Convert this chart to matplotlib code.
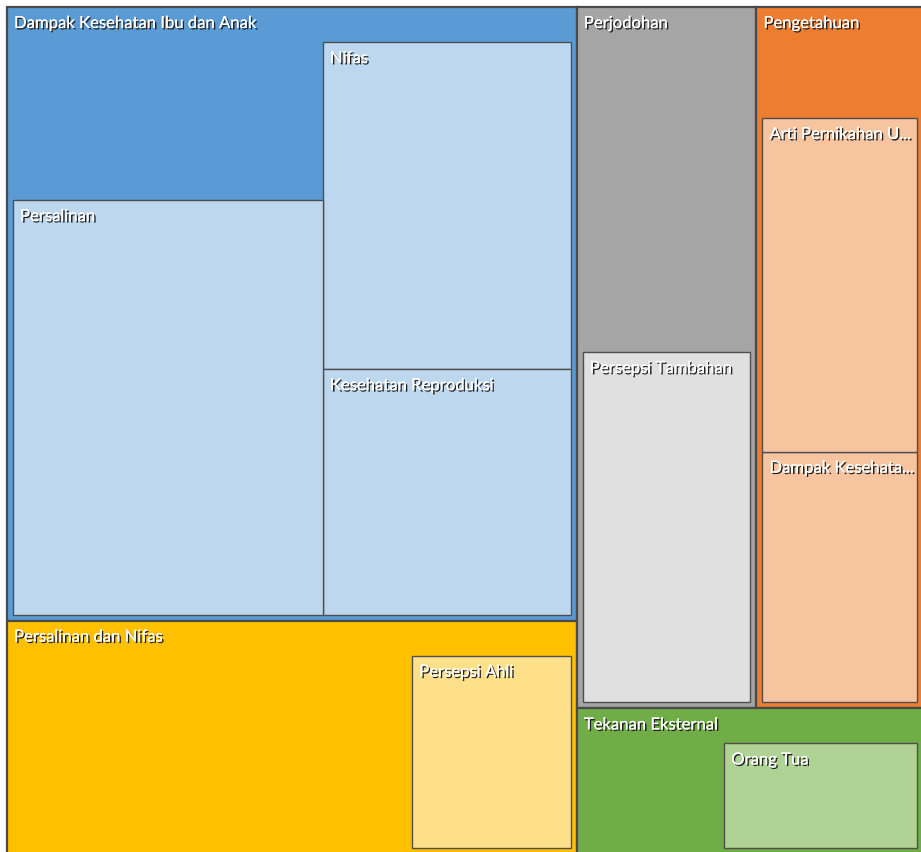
import matplotlib
matplotlib.use("Agg")
import matplotlib.pyplot as plt
from matplotlib.patches import Rectangle
from matplotlib import patheffects, font_manager

# top-level nodes (area units)
groups = ["Dampak Kesehatan Ibu dan Anak", "Persalinan dan Nifas", "Perjodohan",
          "Pengetahuan", "Tekanan Eksternal"]
group_values = [347, 132, 125, 116, 50]

# child nodes per group
child_labels = [
    ["Persalinan", "Nifas", "Kesehatan Reproduksi"],
    ["Persepsi Ahli"],
    ["Persepsi Tambahan"],
    ["Arti Pernikahan U...", "Dampak Kesehata..."],
    ["Orang Tua"],
]
child_values = [
    [127.5, 80.5, 60.4],
    [30.3],
    [58.3],
    [51.2, 38.5],
    [20.0],
]

dark_colors = ["#5B9BD5", "#FFC000", "#A5A5A5", "#ED7D31", "#70AD47"]
light_colors = ["#BDD7EE", "#FFE08A", "#E0E0E0", "#F7C4A0", "#AED394"]

# how the top level is sliced: 'h' = side by side, 'v' = stacked
top_spec = ("h", [("v", [0, 1]), ("v", [("h", [2, 3]), 4])])
# how children sit inside each group: strips taken from the right / bottom
child_strips = [
    [("right", [1, 2]), ("bottom", [0])],
    [("right", [0])],
    [("bottom", [0])],
    [("bottom", [1]), ("bottom", [0])],
    [("right", [0])],
]

W, H = 921, 852
X0, Y0, X1, Y1 = 7, 7, 923, 854
PAD = 6
HEADER = 29

names = {f.name for f in font_manager.fontManager.ttflist}
FONT = "Liberation Sans Narrow" if "Liberation Sans Narrow" in names else "Lato"
FS = 13 if FONT == "Liberation Sans Narrow" else 12


def spec_sum(node):
    if isinstance(node, int):
        return group_values[node]
    return sum(spec_sum(c) for c in node[1])


def slice_rects(node, x, y, w, h, out):
    if isinstance(node, int):
        out[node] = (x, y, w, h)
        return
    d, kids = node
    tot = sum(spec_sum(k) for k in kids)
    pos = 0.0
    for k in kids:
        f = spec_sum(k) / tot
        if d == "h":
            slice_rects(k, x + pos * w, y, f * w, h, out)
        else:
            slice_rects(k, x, y + pos * h, w, f * h, out)
        pos += f


rects = {}
slice_rects(top_spec, X0, Y0, X1 - X0, Y1 - Y0, rects)
scale = (X1 - X0) * (Y1 - Y0) / sum(group_values)  # px^2 per unit

fig = plt.figure(figsize=(W / 100, H / 100), dpi=100)
ax = fig.add_axes([0, 0, 1, 1])
ax.set_xlim(0, W)
ax.set_ylim(H, 0)
ax.axis("off")

fx = [patheffects.withSimplePatchShadow(offset=(1.1, -1.1), shadow_rgbFace="#222222", alpha=1.0),
      patheffects.Normal()]


def label(x, y, s):
    ax.text(x + 7, y + 8, s, color="white", fontsize=FS, family=FONT,
            va="top", ha="left", path_effects=fx, zorder=5)


for g in range(len(groups)):
    x, y, w, h = rects[g]
    ax.add_patch(Rectangle((x, y), w, h, facecolor=dark_colors[g],
                           edgecolor="#4a4a4a", lw=1.6, zorder=1))
    label(x, y, groups[g])

    # free region for children: inside padding, below header
    rx, ry = x + PAD, y + PAD + HEADER
    rw, rh = w - 2 * PAD, h - 2 * PAD - HEADER
    for side, idx in child_strips[g]:
        area = sum(child_values[g][i] for i in idx) * scale
        if side == "right":
            sw = area / rh
            sx = rx + rw - sw
            cy = ry
            for i in idx:
                ch = child_values[g][i] * scale / sw
                ax.add_patch(Rectangle((sx, cy), sw, ch, facecolor=light_colors[g],
                                       edgecolor="#4f4f4f", lw=1.0, zorder=2))
                label(sx, cy, child_labels[g][i])
                cy += ch
            rw -= sw
        else:
            sh = area / rw
            sy = ry + rh - sh
            cx = rx
            for i in idx:
                cw = child_values[g][i] * scale / sh
                ax.add_patch(Rectangle((cx, sy), cw, sh, facecolor=light_colors[g],
                                       edgecolor="#4f4f4f", lw=1.0, zorder=2))
                label(cx, sy, child_labels[g][i])
                cx += cw
            rh -= sh

fig.savefig("out.png", dpi=100, facecolor="white")
